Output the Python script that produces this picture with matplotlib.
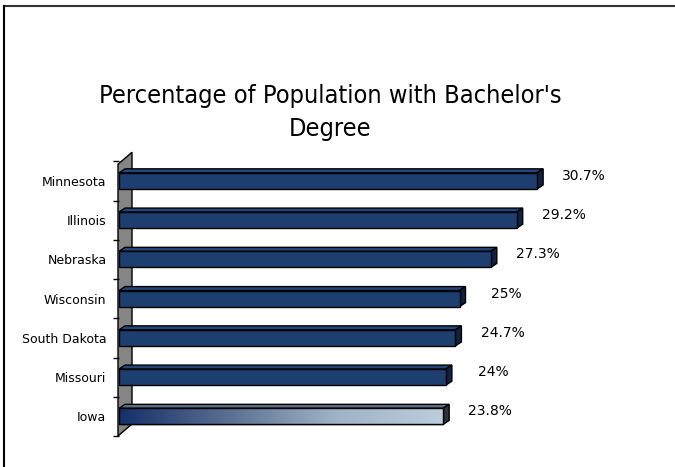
import numpy as np
import matplotlib.pyplot as plt
from matplotlib import font_manager
from matplotlib.patches import Polygon
from matplotlib.colors import LinearSegmentedColormap

states = ['Minnesota', 'Illinois', 'Nebraska', 'Wisconsin', 'South Dakota', 'Missouri', 'Iowa']
values = [30.7, 29.2, 27.3, 25.0, 24.7, 24.0, 23.8]
labels = ['30.7%', '29.2%', '27.3%', '25%', '24.7%', '24%', '23.8%']

navy = '#1d3f70'
navy_top = '#22467a'
navy_side = '#0e2242'

# use a condensed face for the title if one is installed
cond = font_manager.findfont(font_manager.FontProperties(family='DejaVu Sans', stretch='condensed'))
title_kw = dict(fontsize=15)
if 'Condensed' in cond:
    title_kw = dict(fontsize=18.2, fontstretch='condensed')

fig = plt.figure(figsize=(6.75, 4.67), dpi=100)
W, H = 675, 467

# frame lines (top and left only)
fig.add_artist(plt.Line2D([4 / W, 1], [1 - 6 / H, 1 - 6 / H], color='#333333', lw=1.5))
fig.add_artist(plt.Line2D([4 / W, 4 / W], [0, 1 - 6 / H], color='black', lw=1.5))

fig.text(330 / W, 1 - 103 / H, "Percentage of Population with Bachelor's",
         ha='center', va='baseline', **title_kw)
fig.text(330 / W, 1 - 136 / H, "Degree", ha='center', va='baseline', **title_kw)

ax = fig.add_axes([119 / W, 31 / H, 544.8 / W, 274.75 / H])
ax.set_xlim(0, 40)
ax.set_ylim(6.5, -0.5)
for s in ax.spines.values():
    s.set_visible(False)
ax.set_xticks([])

y = np.arange(len(states))
bh = 0.41
dx, dy = 6, 4  # depth offset in pixels
to_px = ax.transData.transform

# back wall
x0 = -1.0 / 13.62
bl = to_px((x0, 6.5))
tl = to_px((x0, -0.5)) - [0, 3]
wall = np.array([bl, tl, tl + [14, 12], bl + [14, 12]])
ax.add_patch(Polygon(wall, closed=True, transform=None, facecolor='#858585',
                     edgecolor='black', lw=1, clip_on=False, zorder=1))

# ticks
ax.set_yticks(y)
ax.set_yticklabels(states, fontsize=9)
ax.tick_params(axis='y', which='major', length=0, pad=9)
ax.set_yticks(np.arange(-0.5, 7, 1), minor=True)
ax.tick_params(axis='y', which='minor', length=4, width=1, direction='out', left=True)

bars = ax.barh(y, values, height=bh, color=navy, edgecolor='black', lw=1, zorder=3)

# gradient on the last bar
cmap = LinearSegmentedColormap.from_list('iowa', ['#15306a', '#5a6f90', '#9fb3c8', '#bccddc'])
last = bars[-1]
grad = np.linspace(0, 1, 256).reshape(1, -1)
im = ax.imshow(grad, cmap=cmap, aspect='auto', zorder=3.5,
               extent=(0, values[-1], y[-1] + bh / 2, y[-1] - bh / 2))
im.set_clip_path(last)
ax.add_patch(Polygon([(0, y[-1] - bh / 2), (values[-1], y[-1] - bh / 2),
                      (values[-1], y[-1] + bh / 2), (0, y[-1] + bh / 2)],
                     closed=True, fill=False, edgecolor='black', lw=1, zorder=4))

# 3D top and side faces
for i, (yi, v) in enumerate(zip(y, values)):
    p_tl = to_px((0, yi - bh / 2))
    p_tr = to_px((v, yi - bh / 2))
    p_br = to_px((v, yi + bh / 2))
    off = np.array([dx, dy])
    top = np.array([p_tl, p_tr, p_tr + off, p_tl + off])
    side = np.array([p_tr, p_br, p_br + off, p_tr + off])
    last_bar = i == len(y) - 1
    ax.add_patch(Polygon(top, closed=True, transform=None,
                         facecolor='#5d6f88' if last_bar else navy_top,
                         edgecolor='black', lw=1, zorder=2.5, clip_on=False))
    ax.add_patch(Polygon(side, closed=True, transform=None,
                         facecolor='#2a3440' if last_bar else navy_side,
                         edgecolor='black', lw=1, zorder=2.5, clip_on=False))

# value labels
for yi, v, lab in zip(y, values, labels):
    ax.annotate(lab, (v, yi), xytext=(47, 5), textcoords='offset pixels',
                ha='center', va='center', fontsize=10)

fig.savefig('out.png', dpi=100)
